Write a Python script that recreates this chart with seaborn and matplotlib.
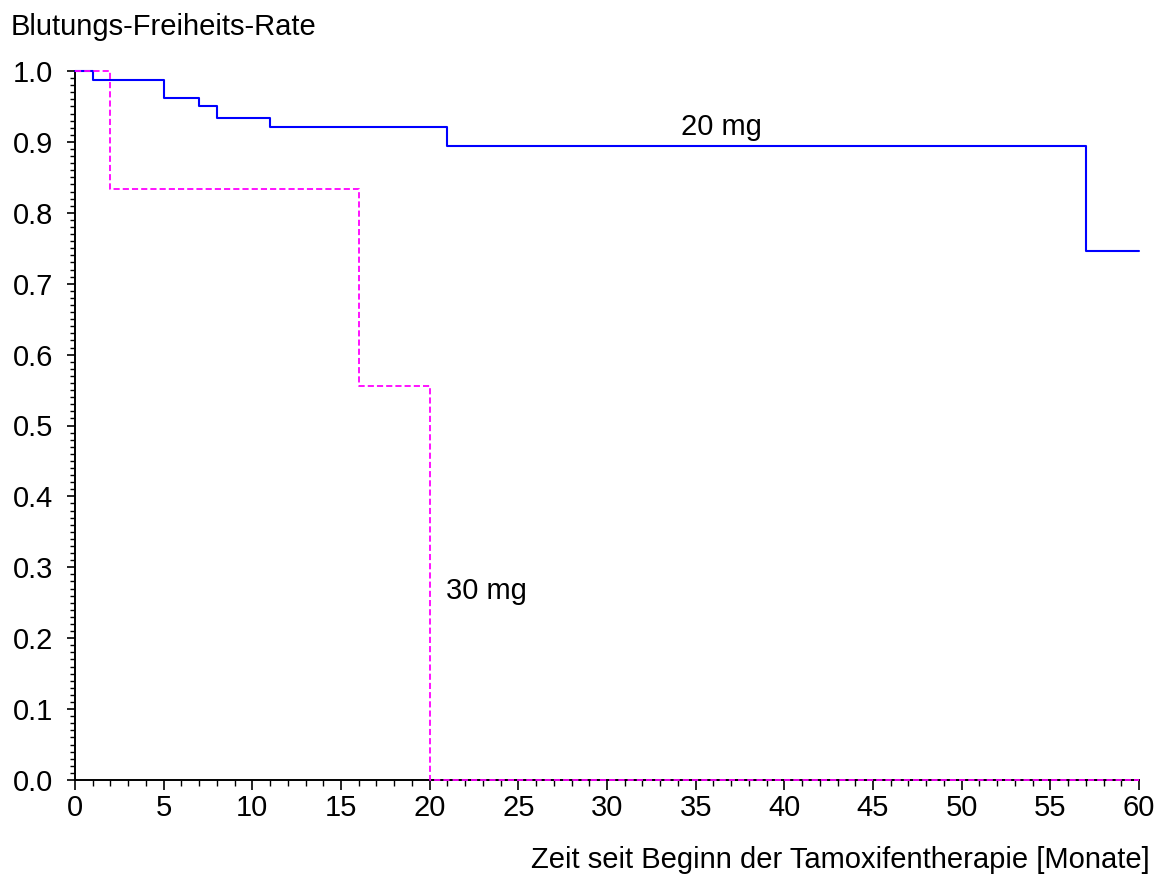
import matplotlib
matplotlib.use("Agg")
import matplotlib.pyplot as plt
import seaborn as sns
import pandas as pd
from matplotlib.ticker import MultipleLocator

# Data (Kaplan-Meier steps)
t_20mg = [0, 1, 5, 7, 8, 11, 21, 57, 60]
s_20mg = [1.0, 0.987, 0.962, 0.950, 0.934, 0.921, 0.894, 0.746, 0.746]
t_30mg = [0, 2, 16, 20, 60]
s_30mg = [1.0, 0.833, 0.556, 0.0, 0.0]

x_ticks = list(range(0, 61, 5))
y_ticks = [i / 10 for i in range(0, 11)]

sns.set_style("white")
plt.rcParams['font.family'] = ['Liberation Sans', 'DejaVu Sans']
plt.rcParams['text.color'] = 'black'

FS = 21

fig = plt.figure(figsize=(11.65, 8.76), dpi=100)
ax = fig.add_axes([75 / 1165, 1 - 780 / 876, (1139 - 75) / 1165, (780 - 71) / 876])

df20 = pd.DataFrame({"t": t_20mg, "s": s_20mg})
df30 = pd.DataFrame({"t": t_30mg, "s": s_30mg})

sns.lineplot(data=df20, x="t", y="s", ax=ax, drawstyle="steps-post", estimator=None,
             color="#0000FF", lw=1.5, clip_on=False, zorder=4)
sns.lineplot(data=df30, x="t", y="s", ax=ax, drawstyle="steps-post", estimator=None,
             color="#FF00FF", lw=1.3, clip_on=False, zorder=5)
ax.lines[1].set_dashes((3.4, 1.7))

ax.set_xlim(0, 60)
ax.set_ylim(0, 1.0)
ax.set_xticks(x_ticks)
ax.set_yticks(y_ticks)
ax.set_xticklabels([str(v) for v in x_ticks])
ax.set_yticklabels([f"{v:.1f}" for v in y_ticks])
ax.xaxis.set_minor_locator(MultipleLocator(1))
ax.yaxis.set_minor_locator(MultipleLocator(0.01))

for side in ["top", "right"]:
    ax.spines[side].set_visible(False)
for side in ["left", "bottom"]:
    ax.spines[side].set_linewidth(1.4)
    ax.spines[side].set_color("black")

ax.tick_params(axis="both", which="major", direction="out", length=7, width=1.2,
               labelsize=FS, colors="black")
ax.tick_params(axis="both", which="minor", direction="out", length=4, width=1.0, colors="black")
ax.tick_params(axis="x", which="both", bottom=True, pad=3)
ax.tick_params(axis="y", which="both", left=True, pad=10)
ax.tick_params(axis="y", which="major", length=6)
ax.tick_params(axis="y", which="minor", length=3.5)

ax.set_xlabel("")
ax.set_ylabel("")
ax.grid(False)

ax.text(34.2, 0.9097, "20 mg", fontsize=FS, va="baseline", ha="left", color="black")
ax.text(20.9, 0.2553, "30 mg", fontsize=FS, va="baseline", ha="left", color="black")

fig.text(11 / 1165, 1 - 35 / 876, "Blutungs-Freiheits-Rate", fontsize=FS,
         va="baseline", ha="left", color="black")
fig.text(1150 / 1165, 1 - 868 / 876, "Zeit seit Beginn der Tamoxifentherapie [Monate]",
         fontsize=FS, va="baseline", ha="right", color="black")

fig.savefig("out.png", dpi=100)
